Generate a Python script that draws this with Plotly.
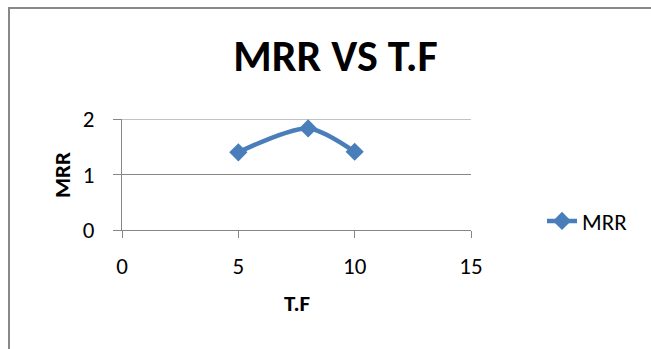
import plotly.graph_objects as go

# Data
tf_values = [5, 8, 10]
mrr_values = [1.40, 1.83, 1.41]
series_name = "MRR"
chart_title = "MRR VS T.F"
x_title = "T.F"
y_title = "MRR"
x_ticks = [0, 5, 10, 15]
y_ticks = [0, 1, 2]

W, H = 651, 349
L, R, T, B = 122, 180, 119, 119
pw = W - L - R
ph = H - T - B

def px_x(px):
    return (px - L) / pw

def px_y(py):
    return (H - B - py) / ph

FONT = "Calibri, Carlito, Lato, sans-serif"
BLUE = "#4A7EBB"
GRID = "#868686"

fig = go.Figure()
fig.add_trace(go.Scatter(
    x=tf_values, y=mrr_values, name=series_name, mode="lines+markers",
    line=dict(color=BLUE, width=4.5, shape="spline", smoothing=0.8),
    marker=dict(symbol="diamond", size=14, color=BLUE),
))

fig.update_layout(
    width=W, height=H,
    margin=dict(l=L, r=R, t=T, b=B, pad=0),
    paper_bgcolor="white", plot_bgcolor="white",
    font=dict(family=FONT, color="black", size=23),
    title=dict(text="<b>" + chart_title + "</b>", x=335.5 / W, xanchor="center",
               y=1 - 56 / H, yanchor="middle", font=dict(size=44, family=FONT)),
    showlegend=True,
    legend=dict(x=px_x(542), y=px_y(221), xanchor="left", yanchor="middle",
                font=dict(size=23, family=FONT), bgcolor="rgba(0,0,0,0)",
                itemwidth=30),
    xaxis=dict(range=[0, 15], tickvals=x_ticks, ticks="outside", ticklen=7,
               tickcolor=GRID, tickwidth=1, showline=True, linecolor=GRID,
               linewidth=1, showgrid=False, zeroline=False,
               ticklabelstandoff=8, fixedrange=True),
    yaxis=dict(range=[0, 2], tickvals=y_ticks, ticks="outside", ticklen=8,
               tickcolor=GRID, tickwidth=1, showline=True, linecolor=GRID,
               linewidth=1, showgrid=True, gridcolor=GRID, gridwidth=1,
               zeroline=False, ticklabelstandoff=14, fixedrange=True),
    annotations=[
        dict(text="<b>" + x_title + "</b>", xref="paper", yref="paper",
             x=px_x(297), y=px_y(303), xanchor="center", yanchor="middle",
             showarrow=False, font=dict(size=23, family=FONT)),
        dict(text="<b>" + y_title + "</b>", xref="paper", yref="paper",
             x=px_x(62), y=px_y(175), xanchor="center", yanchor="middle",
             textangle=-90, showarrow=False, font=dict(size=23, family=FONT)),
    ],
    shapes=[
        dict(type="line", xref="paper", yref="paper",
             x0=px_x(9), x1=px_x(9), y0=px_y(349), y1=px_y(7),
             line=dict(color="#888888", width=2), layer="below"),
        dict(type="line", xref="paper", yref="paper",
             x0=px_x(8), x1=px_x(651), y0=px_y(8), y1=px_y(8),
             line=dict(color="#888888", width=2), layer="below"),
        dict(type="line", xref="paper", yref="y", x0=0, x1=1, y0=2, y1=2,
             line=dict(color=GRID, width=1), layer="below"),
    ],
)

fig.write_html(
    "out.html",
    config={"displayModeBar": False},
    post_script="document.documentElement.style.overflow='hidden';"
                "document.body.style.overflow='hidden';"
                "document.body.style.margin='0';",
)
